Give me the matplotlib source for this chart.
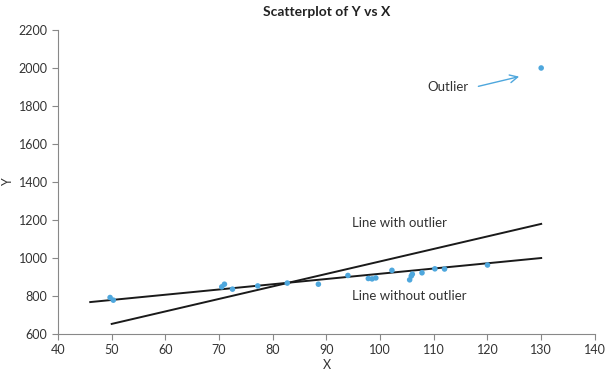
import matplotlib
matplotlib.use("Agg")
from matplotlib import pyplot as plt
import numpy as np

# data
x_vals = [49.7, 50.3, 70.5, 71.0, 72.5, 77.2, 82.7, 88.5, 94.0, 97.8, 98.5,
          99.2, 102.2, 105.5, 105.8, 106.0, 107.8, 110.2, 112.0, 120.0, 130.0]
y_vals = [792, 778, 848, 862, 836, 853, 868, 862, 908, 892, 890,
          895, 935, 885, 905, 915, 922, 943, 942, 963, 2000]

# fitted lines (slope, intercept) and x span
fit_with = (6.58, 324)
fit_with_span = [50, 130]
fit_without = (2.76, 641)
fit_without_span = [46, 130]

x_ticks = list(range(40, 141, 10))
y_ticks = list(range(600, 2201, 200))

plt.rcParams['font.family'] = ['Lato', 'DejaVu Sans']

fig = plt.figure(figsize=(6.12, 3.82), dpi=100)
ax = fig.add_axes([0.0948, 0.1257, 0.8772, 0.7958])

ax.scatter(x_vals, y_vals, s=16, color="#4ea7dd", zorder=3, edgecolors="none")

for (m, b), span in [(fit_with, fit_with_span), (fit_without, fit_without_span)]:
    xs = np.array(span)
    ax.plot(xs, m * xs + b, color="#1a1a1a", lw=1.4, zorder=2)

ax.text(94.8, 1184, "Line with outlier", fontsize=9.5, color="#333333", va="center")
ax.text(94.8, 800, "Line without outlier", fontsize=9.5, color="#333333", va="center")
ax.text(112.6, 1900, "Outlier", fontsize=9.5, color="#333333", va="center", ha="center")
ax.annotate("", xy=(126.4, 1958), xytext=(117.8, 1900),
            arrowprops=dict(arrowstyle="->", color="#4ea7dd", lw=1.0, mutation_scale=14))

ax.set_xlim(40, 140)
ax.set_ylim(600, 2200)
ax.set_xticks(x_ticks)
ax.set_yticks(y_ticks)
ax.tick_params(direction="out", length=4, color="#888888", labelsize=9, labelcolor="#333333")
for side in ["top", "right"]:
    ax.spines[side].set_visible(False)
for side in ["left", "bottom"]:
    ax.spines[side].set_color("#888888")

ax.set_xlabel("X", fontsize=9, color="#333333", labelpad=2)
fig.text(8 / 612, 1 - 182 / 382, "Y", fontsize=9, color="#333333",
         rotation=90, ha="center", va="center")
fig.text(327 / 612, 1 - 12 / 382, "Scatterplot of Y vs X", fontsize=10,
         fontweight="bold", color="#222222", ha="center", va="center")

plt.savefig("out.png", dpi=100)
